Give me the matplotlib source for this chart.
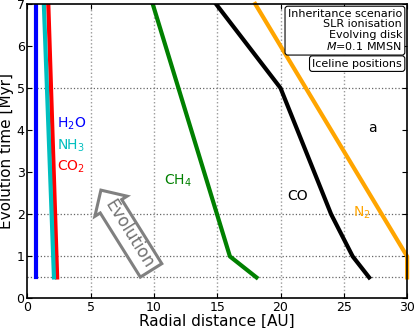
import numpy as np
import matplotlib.pyplot as plt

# ------------------------------ Data ------------------------------
t_snap = [0.5, 1, 2, 5]           # snapshot times [Myr]

h2o_r = [0.65, 0.65]
h2o_t = [0.5, 7.0]
nh3_r = [2.1, 1.3]
nh3_t = [0.5, 7.0]
co2_r = [2.35, 1.65]
co2_t = [0.5, 7.0]
ch4_r = [18.1, 16.0, 9.9]
ch4_t = [0.5, 1.0, 7.0]
co_r = [27.0, 25.7, 24.0, 20.0, 14.9]
co_t = [0.5, 1.0, 2.0, 5.0, 7.0]
n2_r = [30.0, 30.0, 18.0]
n2_t = [0.5, 1.0, 7.0]

# ------------------------------ Plot ------------------------------
fig = plt.figure(figsize=(4.15, 3.28), dpi=100)
ax = fig.add_axes([0.066, 0.09, 0.915, 0.898])

for x in [5, 10, 15, 20, 25]:
    ax.axvline(x, color='0.6', ls=':', lw=1, zorder=0)
for t in t_snap:
    ax.axhline(t, color='0.4', ls=':', lw=0.9, zorder=0)

lw = 3
ax.plot(h2o_r, h2o_t, color='b', lw=lw)
ax.plot(co2_r, co2_t, color='r', lw=lw)
ax.plot(nh3_r, nh3_t, color='c', lw=lw)
ax.plot(ch4_r, ch4_t, color='g', lw=lw)
ax.plot(co_r, co_t, color='k', lw=lw)
ax.plot(n2_r, n2_t, color='orange', lw=lw, clip_on=False)

fs = 10
ax.text(2.3, 4.05, r'H$_2$O', color='b', fontsize=fs)
ax.text(2.3, 3.55, r'NH$_3$', color='c', fontsize=fs)
ax.text(2.3, 3.05, r'CO$_2$', color='r', fontsize=fs)
ax.text(10.8, 2.7, r'CH$_4$', color='g', fontsize=fs)
ax.text(20.5, 2.35, 'CO', color='k', fontsize=fs)
ax.text(25.7, 1.95, r'N$_2$', color='orange', fontsize=fs)
ax.text(26.9, 3.95, 'a', color='k', fontsize=fs)

ax.text(29.6, 6.88, 'Inheritance scenario\nSLR ionisation\nEvolving disk\n$M$=0.1 MMSN',
        ha='right', va='top', fontsize=8, linespacing=1.05,
        bbox=dict(boxstyle='round,pad=0.25', fc='w', ec='k', lw=0.8))
ax.text(29.6, 5.7, 'Iceline positions', ha='right', va='top', fontsize=8,
        bbox=dict(boxstyle='round,pad=0.25', fc='w', ec='k', lw=0.8))

ax.text(8.0, 1.52, 'Evolution', rotation=-58, ha='center', va='center',
        fontsize=12, color='0.45',
        bbox=dict(boxstyle='larrow,pad=0.22', fc='w', ec='0.5', lw=2.2))

ax.set_xlim(0, 30)
ax.set_ylim(0, 7)
ax.set_xticks(np.arange(0, 31, 5))
ax.set_yticks(np.arange(0, 8, 1))
ax.tick_params(direction='in', top=True, right=True, labelsize=9, pad=2)
for s in ax.spines.values():
    s.set_linewidth(1.2)
ax.set_xlabel('Radial distance [AU]', fontsize=11, labelpad=0)
ax.set_ylabel('Evolution time [Myr]', fontsize=11, labelpad=2)

plt.savefig('out.png', dpi=100)
